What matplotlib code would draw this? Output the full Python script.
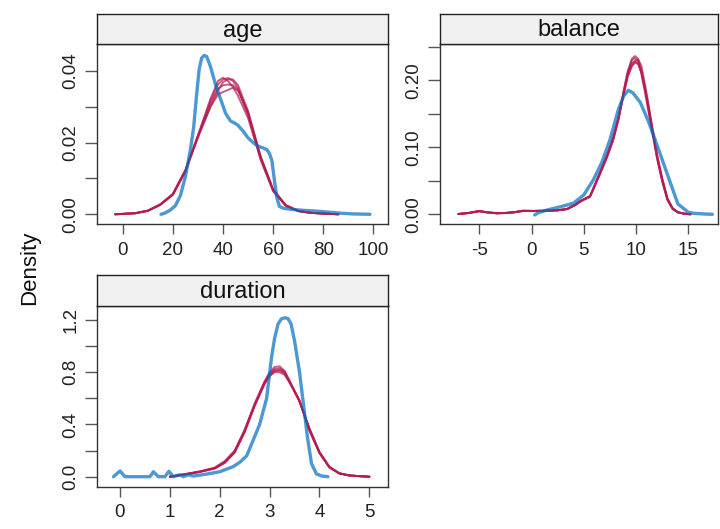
import matplotlib
matplotlib.use("Agg")
import matplotlib.pyplot as plt

plt.rcParams['font.family'] = ['Liberation Sans', 'DejaVu Sans']

# observed (blue) and imputed (red, 5 imputations) densities
age_obs_x = [15.3, 17, 19, 21, 23, 25, 27, 28.3, 29.5, 30.5, 31.5, 32.5, 33.5, 35, 37, 39, 41, 43,
             44.5, 46, 48, 50, 52, 54, 56, 57.5, 58.5, 59.5, 60.5, 61.5, 62.5, 64, 67, 72, 77, 82,
             87, 92, 98.6]
age_obs_y = [0.0000, 0.0004, 0.0012, 0.0024, 0.0052, 0.0105, 0.0180, 0.0243, 0.0335, 0.0405, 0.0436,
             0.0443, 0.0440, 0.0412, 0.0362, 0.0322, 0.0282, 0.0260, 0.0255, 0.0248, 0.0232, 0.0213,
             0.0200, 0.0190, 0.0185, 0.0180, 0.0170, 0.0150, 0.0095, 0.0045, 0.0022, 0.0017, 0.0014,
             0.0011, 0.0009, 0.0006, 0.0003, 0.0001, 0.0000]
age_imp_x = [-3, 5, 10, 15, 20, 25, 30, 35, 38, 40, 42, 44, 46, 50, 55, 60, 65, 70, 75, 80, 86]
age_imp_y = [
    [0, 0.0003, 0.0010, 0.0027, 0.0056, 0.0122, 0.0220, 0.0322, 0.0372, 0.0381, 0.0372, 0.0355,
     0.0330, 0.0268, 0.0155, 0.0066, 0.0025, 0.0009, 0.0004, 0.0002, 0],
    [0, 0.0003, 0.0009, 0.0026, 0.0054, 0.0118, 0.0214, 0.0300, 0.0345, 0.0368, 0.0377, 0.0376,
     0.0360, 0.0288, 0.0162, 0.0068, 0.0025, 0.0009, 0.0004, 0.0002, 0],
    [0, 0.0003, 0.0010, 0.0028, 0.0057, 0.0124, 0.0218, 0.0300, 0.0334, 0.0341, 0.0347, 0.0353,
     0.0345, 0.0282, 0.0160, 0.0070, 0.0026, 0.0010, 0.0004, 0.0002, 0],
    [0, 0.0003, 0.0010, 0.0027, 0.0055, 0.0121, 0.0216, 0.0310, 0.0350, 0.0360, 0.0362, 0.0360,
     0.0348, 0.0284, 0.0158, 0.0067, 0.0024, 0.0009, 0.0004, 0.0002, 0],
    [0, 0.0003, 0.0010, 0.0027, 0.0056, 0.0122, 0.0219, 0.0316, 0.0362, 0.0376, 0.0380, 0.0372,
     0.0352, 0.0276, 0.0152, 0.0064, 0.0024, 0.0009, 0.0004, 0.0002, 0],
]

balance_obs_x = [0.3, 0.6, 1.5, 2.7, 4.0, 5.0, 5.9, 6.7, 7.5, 8.3, 8.8, 9.25, 9.7, 10.4, 11.2,
                 12.1, 13.1, 14.0, 15.0, 15.5, 16.5, 17.3]
balance_obs_y = [-0.001, 0.002, 0.0065, 0.011, 0.0165, 0.029, 0.051, 0.0765, 0.111, 0.156, 0.176,
                 0.185, 0.181, 0.167, 0.138, 0.099, 0.055, 0.0155, 0.003, 0.0015, 0.0005, 0.0]
balance_imp_x = [-7, -6, -5, -4.3, -3.3, -2.5, -1.7, -0.8, 0.2, 1.5, 2.5, 3.4, 4.2, 4.7, 5.6, 6.5,
                 7.2, 7.8, 8.3, 8.8, 9.2, 9.6, 9.9, 10.2, 10.5, 10.9, 11.2, 11.6, 12.0, 12.5, 13.0,
                 13.5, 14.0, 14.6, 15.2]
balance_imp_y = [
    [0.0005, 0.002, 0.005, 0.003, 0.0015, 0.002, 0.003, 0.0055, 0.005, 0.0055, 0.006, 0.0078, 0.014,
     0.020, 0.027, 0.060, 0.086, 0.112, 0.142, 0.182, 0.212, 0.232, 0.236, 0.232, 0.215, 0.182,
     0.155, 0.120, 0.085, 0.050, 0.022, 0.008, 0.003, 0.001, 0.0],
    [0.0005, 0.002, 0.004, 0.003, 0.0015, 0.002, 0.003, 0.005, 0.005, 0.0055, 0.006, 0.008, 0.014,
     0.019, 0.026, 0.058, 0.084, 0.110, 0.140, 0.178, 0.205, 0.222, 0.229, 0.2305, 0.222, 0.190,
     0.163, 0.126, 0.090, 0.054, 0.024, 0.009, 0.003, 0.001, 0.0],
    [0.0005, 0.002, 0.005, 0.003, 0.0015, 0.002, 0.003, 0.005, 0.005, 0.005, 0.006, 0.008, 0.014,
     0.020, 0.027, 0.060, 0.087, 0.114, 0.143, 0.180, 0.206, 0.221, 0.226, 0.224, 0.212, 0.185,
     0.160, 0.124, 0.088, 0.052, 0.023, 0.009, 0.003, 0.001, 0.0],
    [0.0005, 0.002, 0.005, 0.003, 0.002, 0.002, 0.003, 0.0055, 0.005, 0.0055, 0.006, 0.0078, 0.015,
     0.020, 0.027, 0.061, 0.087, 0.113, 0.143, 0.183, 0.213, 0.230, 0.233, 0.228, 0.210, 0.178,
     0.152, 0.118, 0.084, 0.049, 0.021, 0.008, 0.003, 0.001, 0.0],
    [0.0005, 0.002, 0.005, 0.003, 0.0015, 0.002, 0.003, 0.005, 0.005, 0.0055, 0.006, 0.0078, 0.014,
     0.020, 0.027, 0.059, 0.085, 0.111, 0.141, 0.180, 0.209, 0.226, 0.228, 0.225, 0.213, 0.184,
     0.158, 0.122, 0.087, 0.052, 0.023, 0.008, 0.003, 0.001, 0.0],
]

duration_obs_x = [-0.13, 0.0, 0.1, 0.6, 0.67, 0.77, 0.9, 0.98, 1.07, 1.2, 1.27, 1.37, 1.47, 1.74,
                  2.0, 2.27, 2.41, 2.54, 2.67, 2.8, 2.94, 3.04, 3.1, 3.17, 3.24, 3.31, 3.37, 3.43,
                  3.5, 3.6, 3.68, 3.76, 3.84, 3.94, 4.05, 4.17]
duration_obs_y = [0.0, 0.044, 0.0, 0.0, 0.038, 0.0, 0.0, 0.041, 0.0, 0.015, 0.0, 0.015, 0.005,
                  0.02, 0.038, 0.077, 0.113, 0.16, 0.279, 0.4, 0.6, 0.917, 1.06, 1.17, 1.21, 1.217,
                  1.21, 1.17, 1.04, 0.8, 0.55, 0.3, 0.1, 0.021, 0.005, 0.0]
duration_imp_x = [1.0, 1.3, 1.6, 1.9, 2.1, 2.3, 2.5, 2.7, 2.9, 3.0, 3.1, 3.2, 3.3, 3.4, 3.6, 3.8,
                  4.0, 4.2, 4.4, 4.6, 4.8, 5.0]
duration_imp_y = [
    [0.0, 0.018, 0.038, 0.065, 0.11, 0.19, 0.35, 0.56, 0.73, 0.80, 0.840, 0.845, 0.81, 0.73, 0.575,
     0.35, 0.18, 0.07, 0.024, 0.009, 0.004, 0.0],
    [0.0, 0.02, 0.04, 0.07, 0.12, 0.20, 0.36, 0.55, 0.72, 0.78, 0.815, 0.82, 0.80, 0.73, 0.58,
     0.36, 0.185, 0.072, 0.025, 0.01, 0.004, 0.0],
    [0.0, 0.016, 0.036, 0.062, 0.105, 0.185, 0.34, 0.54, 0.71, 0.77, 0.800, 0.80, 0.78, 0.72, 0.58,
     0.37, 0.19, 0.075, 0.026, 0.01, 0.004, 0.0],
    [0.0, 0.019, 0.039, 0.066, 0.112, 0.195, 0.355, 0.555, 0.725, 0.79, 0.825, 0.83, 0.805, 0.735,
     0.578, 0.355, 0.182, 0.071, 0.025, 0.009, 0.004, 0.0],
    [0.0, 0.017, 0.037, 0.064, 0.108, 0.188, 0.345, 0.545, 0.715, 0.775, 0.808, 0.812, 0.79, 0.725,
     0.582, 0.365, 0.188, 0.074, 0.026, 0.01, 0.004, 0.0],
]

obs_col = '#006CC2'
imp_col = '#B61A51'
W, H = 720, 529


def panel(box, strip_box, title, obs_x, obs_y, imp_x, imp_y, xlim, ylim, xticks, yticks, ylabels):
    ax = fig.add_axes(box)
    for ys in imp_y:
        ax.plot(imp_x, ys, color=imp_col, alpha=0.7, lw=1.4, solid_joinstyle='round',
                solid_capstyle='round')
    ax.plot(obs_x, obs_y, color=obs_col, alpha=0.7, lw=2.4, solid_capstyle='round',
            solid_joinstyle='round')
    ax.set_xlim(xlim)
    ax.set_ylim(ylim)
    ax.set_xticks(xticks)
    ax.set_xticklabels([f'{t:g}' for t in xticks])
    ax.set_yticks(yticks)
    ax.set_yticklabels(ylabels, rotation=90, va='center')
    ax.tick_params(axis='x', direction='out', length=7.5, width=1.0, color='#555555',
                   labelsize=13.5, pad=5, labelcolor='#222222')
    ax.tick_params(axis='y', direction='out', length=8.5, width=1.0, color='#555555',
                   labelsize=13.5, pad=4, labelcolor='#222222')
    for s in ax.spines.values():
        s.set_color('#333333')
        s.set_linewidth(1.0)

    st = fig.add_axes(strip_box)
    st.set_facecolor('#F0F0F0')
    st.set_xticks([])
    st.set_yticks([])
    for s in st.spines.values():
        s.set_color('#222222')
        s.set_linewidth(1.0)
    st.text(0.5, 0.45, title, ha='center', va='center', fontsize=17, color='#111111',
            transform=st.transAxes)
    return ax


def frac(x0, y0, x1, y1):
    # pixel box (top-left origin) -> figure fraction box
    return [x0 / W, 1 - y1 / H, (x1 - x0) / W, (y1 - y0) / H]


fig = plt.figure(figsize=(7.2, 5.29), dpi=100)

panel(frac(97, 44, 388, 224.5), frac(97, 14, 388, 44), 'age',
      age_obs_x, age_obs_y, age_imp_x, age_imp_y,
      (-10.25, 105.8), (-0.00285, 0.0475),
      [0, 20, 40, 60, 80, 100],
      [0, 0.01, 0.02, 0.03, 0.04], ['0.00', '', '0.02', '', '0.04'])

panel(frac(439.5, 44, 718, 224.5), frac(439.5, 14, 718, 44), 'balance',
      balance_obs_x, balance_obs_y, balance_imp_x, balance_imp_y,
      (-8.81, 17.84), (-0.0152, 0.254),
      [-5, 0, 5, 10, 15],
      [0, 0.05, 0.10, 0.15, 0.20, 0.25], ['0.00', '', '0.10', '', '0.20', ''])

panel(frac(97, 306, 388, 487), frac(97, 275, 388, 306), 'duration',
      duration_obs_x, duration_obs_y, duration_imp_x, duration_imp_y,
      (-0.461, 5.374), (-0.0789, 1.307),
      [0, 1, 2, 3, 4, 5],
      [0, 0.2, 0.4, 0.6, 0.8, 1.0, 1.2], ['0.0', '', '0.4', '', '0.8', '', '1.2'])

fig.text(30 / W, 1 - 268 / H, 'Density', rotation=90, ha='center', va='center', fontsize=16,
         color='#111111')

fig.savefig('out.png', dpi=100)
